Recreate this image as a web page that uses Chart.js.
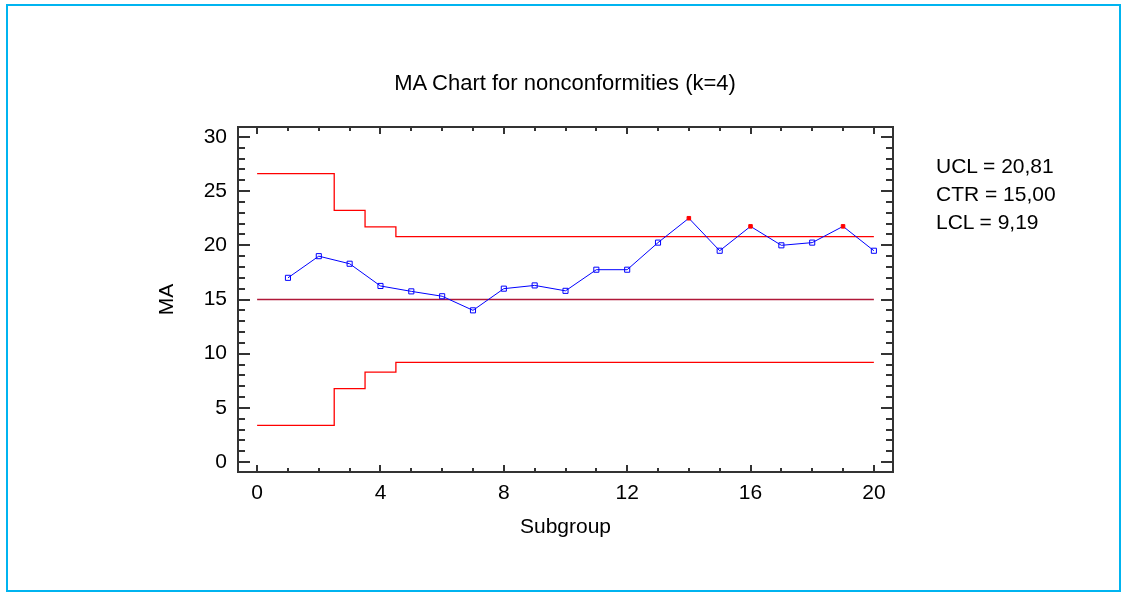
<!DOCTYPE html>
<html>
<head>
<meta charset="utf-8">
<script src="https://cdn.jsdelivr.net/npm/chart.js@4.4.0/dist/chart.umd.min.js"></script>
<style>
  html, body { margin: 0; padding: 0; background: #fff; }
  #wrap { position: relative; width: 1121px; height: 594px; overflow: hidden; }
  #frame { position: absolute; left: 6px; top: 4px; width: 1115px; height: 588px; box-sizing: border-box; border: 2px solid #00b4f0; }
  #title { position: absolute; left: 237px; width: 656px; top: 70px; text-align: center; font: 22px "Liberation Sans", Arial, sans-serif; line-height: 26px; color: #000; white-space: nowrap; }
  #stats { position: absolute; left: 936px; top: 152px; font: 21px "Liberation Sans", Arial, sans-serif; line-height: 28px; color: #000; white-space: nowrap; }
  canvas { position: absolute; left: 0; top: 0; }
</style>
</head>
<body>
<div id="wrap">
  <canvas id="maChart" width="1121" height="594"></canvas>
  <div id="frame"></div>
  <div id="title">MA Chart for nonconformities (k=4)</div>
  <div id="stats">
    <div>UCL = 20,81</div>
    <div>CTR = 15,00</div>
    <div>LCL = 9,19</div>
  </div>
</div>
<script>
// valores
const subgroups = [1, 2, 3, 4, 5, 6, 7, 8, 9, 10, 11, 12, 13, 14, 15, 16, 17, 18, 19, 20];
const maValues = [17.0, 19.0, 18.3, 16.25, 15.75, 15.3, 14.0, 16.0, 16.3, 15.8,
                  17.75, 17.75, 20.25, 22.5, 19.5, 21.75, 20.0, 20.25, 21.75, 19.5];

// limites em degraus (início de cada degrau no eixo x)
const limitSteps = [0, 2.5, 3.5, 4.5, 20];
const uclValues = [26.62, 23.22, 21.71, 20.81, 20.81];
const lclValues = [3.38, 6.78, 8.29, 9.19, 9.19];
const ctrX = [0, 20];
const ctrValues = [15.0, 15.0];

const xTicks = [0, 4, 8, 12, 16, 20];
const yTicks = [0, 5, 10, 15, 20, 25, 30];

const FONT = '"Liberation Sans", Arial, sans-serif';
const BLUE = '#0000ff';
const RED = '#ff0000';

// UCL no ponto x (para marcar pontos fora de controlo)
function uclAt(x) {
  let v = uclValues[0];
  limitSteps.forEach((s, i) => { if (x >= s) v = uclValues[i]; });
  return v;
}
const outOfControl = c => c.raw && c.raw.y > uclAt(c.raw.x);

// moldura e marcas de escala para dentro
const frameTicks = {
  id: 'frameTicks',
  afterDatasetsDraw(chart) {
    const { ctx, chartArea: a, scales: { x, y } } = chart;
    ctx.save();
    ctx.strokeStyle = '#333';
    ctx.lineWidth = 2;
    ctx.strokeRect(a.left, a.top, a.right - a.left, a.bottom - a.top);
    ctx.beginPath();
    for (let v = 0; v <= 20; v++) {
      const px = Math.round(x.getPixelForValue(v));
      const len = v % 4 === 0 ? 7 : 4;
      ctx.moveTo(px, a.bottom); ctx.lineTo(px, a.bottom - len);
      ctx.moveTo(px, a.top); ctx.lineTo(px, a.top + len);
    }
    for (let v = 0; v <= 30; v++) {
      const py = Math.round(y.getPixelForValue(v));
      const len = v % 5 === 0 ? 12 : 7;
      ctx.moveTo(a.left, py); ctx.lineTo(a.left + len, py);
      ctx.moveTo(a.right, py); ctx.lineTo(a.right - len, py);
    }
    ctx.stroke();
    ctx.restore();
  }
};

const ctx = document.getElementById('maChart').getContext('2d');
new Chart(ctx, {
  type: 'line',
  data: {
    datasets: [
      {
        label: 'MA',
        data: subgroups.map((s, i) => ({ x: s, y: maValues[i] })),
        borderColor: BLUE,
        borderWidth: 1,
        pointStyle: 'rect',
        pointRadius: c => outOfControl(c) ? 2.5 : 3.6,
        pointBorderWidth: 1,
        pointBorderColor: c => outOfControl(c) ? RED : BLUE,
        pointBackgroundColor: c => outOfControl(c) ? RED : 'rgba(0,0,0,0)'
      },
      {
        label: 'UCL',
        data: limitSteps.map((s, i) => ({ x: s, y: uclValues[i] })),
        stepped: 'before',
        borderColor: RED,
        borderWidth: 1.3,
        pointRadius: 0
      },
      {
        label: 'CTR',
        data: ctrX.map((s, i) => ({ x: s, y: ctrValues[i] })),
        borderColor: '#b01838',
        borderWidth: 1.3,
        pointRadius: 0
      },
      {
        label: 'LCL',
        data: limitSteps.map((s, i) => ({ x: s, y: lclValues[i] })),
        stepped: 'before',
        borderColor: RED,
        borderWidth: 1.3,
        pointRadius: 0
      }
    ]
  },
  options: {
    responsive: false,
    animation: false,
    layout: { padding: { left: 150, right: 228, top: 127, bottom: 54 } },
    plugins: {
      legend: { display: false },
      tooltip: { enabled: false },
      title: { display: false }
    },
    scales: {
      x: {
        type: 'linear',
        min: -0.62,
        max: 20.62,
        afterBuildTicks: s => { s.ticks = xTicks.map(v => ({ value: v })); },
        afterFit: s => { s.height = 68; },
        grid: { display: false, drawTicks: false },
        border: { display: false },
        ticks: { color: '#000', font: { family: FONT, size: 21 }, padding: 9, maxRotation: 0 },
        title: { display: true, text: 'Subgroup', color: '#000', font: { family: FONT, size: 21 }, padding: { top: 0, bottom: 0 } }
      },
      y: {
        type: 'linear',
        min: -0.92,
        max: 30.92,
        afterBuildTicks: s => { s.ticks = yTicks.map(v => ({ value: v })); },
        afterFit: s => { s.width = 88; },
        grid: { display: false, drawTicks: false },
        border: { display: false },
        ticks: { color: '#000', font: { family: FONT, size: 21 }, padding: 11 },
        title: { display: true, text: 'MA', color: '#000', font: { family: FONT, size: 21 }, padding: { top: 5, bottom: 0 } }
      }
    }
  },
  plugins: [frameTicks]
});
</script>
</body>
</html>
